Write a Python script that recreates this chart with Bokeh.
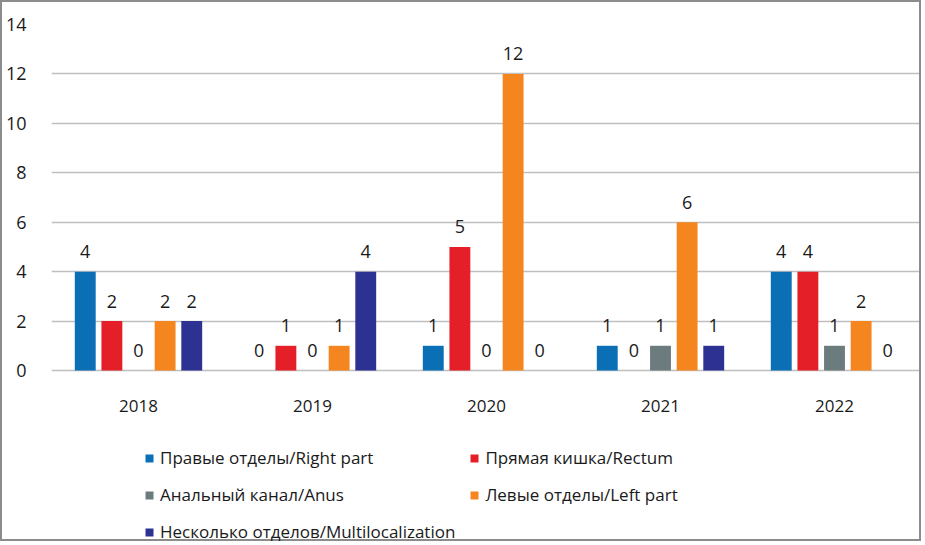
from bokeh.plotting import figure
from bokeh.models import ColumnDataSource, FactorRange, Legend, LegendItem, Range1d
from bokeh.transform import dodge
from bokeh.core.properties import value
from bokeh.embed import file_html
from bokeh.resources import INLINE

years = ["2018", "2019", "2020", "2021", "2022"]
right_part = [4, 0, 1, 1, 4]
rectum = [2, 1, 5, 0, 4]
anus = [0, 0, 0, 1, 1]
left_part = [2, 1, 12, 6, 2]
multi = [2, 4, 0, 1, 0]
y_ticks = [0, 2, 4, 6, 8, 10, 12, 14]

series_names = ["Правые отделы/Right part", "Прямая кишка/Rectum",
                "Анальный канал/Anus", "Левые отделы/Left part",
                "Несколько отделов/Multilocalization"]
series_values = [right_part, rectum, anus, left_part, multi]
colors = ["#0a6fb5", "#e51f28", "#6c7b7d", "#f5861f", "#2d3192"]

FONT = "Open Sans"

# frame spans from top gridline down to the bottom of the chart box;
# the area below 0 holds category labels and legend
p = figure(x_range=FactorRange(*years, range_padding=0, factor_padding=0),
           y_range=Range1d(-7.0, 14.0), width=921, height=541,
           min_border_left=47, min_border_right=2, min_border_top=22, min_border_bottom=0,
           output_backend="svg", toolbar_location=None, tools="")
p.styles = {"border": "2px solid #8c8c8c"}
p.outline_line_color = None
p.background_fill_color = "white"
p.border_fill_color = "white"

step = 0.153
width = 0.12
renderers = []
for i, (name, vals, col) in enumerate(zip(series_names, series_values, colors)):
    off = (i - 2) * step
    src = ColumnDataSource(dict(year=years, v=vals, t=[str(v) for v in vals]))
    r = p.vbar(x=dodge("year", off, range=p.x_range), top="v", width=width,
               source=src, fill_color=col, line_color=None)
    renderers.append((name, r))
    p.text(x=dodge("year", off, range=p.x_range), y="v", text="t", source=src,
           text_align="center", text_baseline="middle", y_offset=-20,
           text_font=value(FONT), text_font_size="18px", text_color="#1a1a1a")

# category labels under the zero line
ysrc = ColumnDataSource(dict(year=years, y0=[0] * len(years)))
p.text(x="year", y="y0", text="year", source=ysrc, text_align="center",
       text_baseline="middle", y_offset=35, text_font=value(FONT),
       text_font_size="17px", text_color="#1a1a1a")

p.yaxis.ticker = y_ticks
p.yaxis.axis_line_color = None
p.yaxis.major_tick_line_color = None
p.yaxis.minor_tick_line_color = None
p.yaxis.major_label_standoff = 19
p.yaxis.major_label_text_font = FONT
p.yaxis.major_label_text_font_size = "18px"
p.yaxis.major_label_text_color = "#1a1a1a"

p.xaxis.visible = False

p.xgrid.grid_line_color = None
p.ygrid.grid_line_color = "#bfbfbf"
p.ygrid.grid_line_width = 1.5
p.ygrid.ticker = y_ticks

# legend fills column by column: order items so rows read left-to-right
legend_order = [0, 2, 4, 1, 3]
legend = Legend(items=[LegendItem(label=renderers[k][0], renderers=[renderers[k][1]])
                       for k in legend_order],
                ncols=2, location=(93, 0), orientation="vertical")
legend.padding = 0
legend.margin = 0
legend.border_line_color = None
legend.background_fill_alpha = 0
legend.glyph_width = 10
legend.glyph_height = 10
legend.label_standoff = 6
legend.label_height = 20
legend.spacing = 14
legend.label_text_font = FONT
legend.label_text_font_size = "17px"
legend.label_text_color = "#1a1a1a"
p.add_layout(legend, "center")

open("out.html", "w").write(file_html(p, INLINE))
